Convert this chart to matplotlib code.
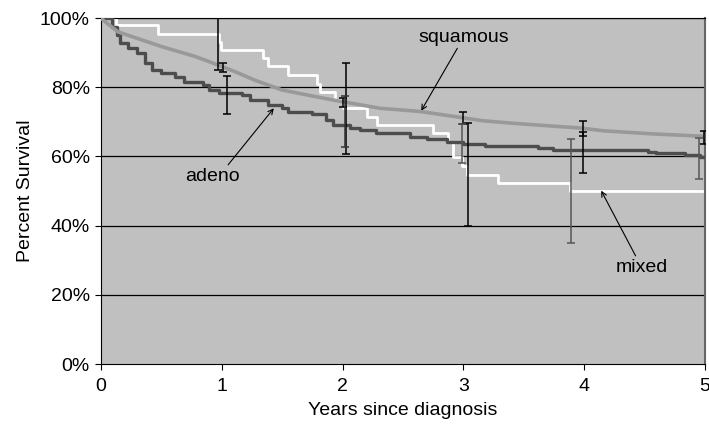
import matplotlib.pyplot as plt
from matplotlib.ticker import FuncFormatter

plt.rcParams['font.family'] = ['Liberation Sans', 'DejaVu Sans']

# survival curves (years, percent surviving)
mixed_t = [0, 0.12, 0.47, 0.977, 0.993, 1.341, 1.382, 1.548, 1.788, 1.813, 1.94,
           2.003, 2.2, 2.285, 2.748, 2.872, 2.914, 2.988, 3.03, 3.286, 3.882, 5.0]
mixed_s = [100, 98, 95.4, 93.2, 90.8, 88.3, 86.0, 83.5, 81.0, 78.7, 76.3,
           73.9, 71.5, 69.1, 66.7, 64.2, 59.7, 57.2, 54.6, 52.4, 50.1, 50.1]

adeno_t = [0, 0.09, 0.13, 0.16, 0.22, 0.3, 0.36, 0.42, 0.5, 0.61, 0.69, 0.84, 0.89,
           0.98, 1.17, 1.23, 1.38, 1.5, 1.55, 1.75, 1.86, 1.92, 2.06, 2.14, 2.28,
           2.56, 2.7, 2.86, 3.0, 3.18, 3.62, 3.74, 4.53, 4.59, 4.83, 4.96, 5.0]
adeno_s = [100, 97.5, 95, 92.7, 91.2, 89.8, 86.9, 85, 84, 83, 81.6, 80.6, 79.2,
           78.2, 77.7, 76.3, 74.9, 73.9, 72.9, 72.4, 70.5, 69.1, 68.1, 67.6, 66.7,
           65.7, 65, 64.2, 63.6, 63, 62.3, 61.8, 61.4, 60.9, 60.4, 59.9, 59.9]

squam_t = [0, 0.017, 0.14, 0.505, 0.778, 0.985, 1.109, 1.275, 1.498, 1.772, 1.937,
           2.036, 2.31, 2.64, 2.97, 3.16, 3.44, 3.72, 3.97, 4.16, 4.57, 5.0]
squam_s = [100, 99.4, 96, 91.7, 88.9, 86.2, 84.5, 82, 79.2, 77.3, 76.2,
           75.6, 73.9, 73, 71.3, 70.3, 69.5, 68.8, 68.2, 67.4, 66.5, 65.8]

# confidence intervals at yearly marks
mixed_ci_t = [0.97, 2.025, 3.035, 3.89]
mixed_ci_mid = [95.4, 73.9, 54.6, 50.1]
mixed_ci_lo = [84.9, 60.7, 39.9, 35.1]
mixed_ci_hi = [102, 87.1, 69.8, 65.0]

squam_ci_t = [1.007, 2.006, 3.0, 3.99, 4.99]
squam_ci_mid = [86.2, 75.6, 71.3, 68.2, 65.8]
squam_ci_lo = [84.5, 74.2, 69.4, 66.0, 63.7]
squam_ci_hi = [87.1, 76.9, 72.7, 70.1, 67.4]

adeno_ci_t = [1.04, 2.02, 2.99, 3.99, 4.95]
adeno_ci_mid = [78.2, 68.1, 63.6, 61.8, 59.9]
adeno_ci_lo = [72.4, 62.6, 58.0, 55.3, 53.4]
adeno_ci_hi = [83.2, 77.5, 69.5, 67.0, 65.2]

fig = plt.figure(figsize=(7.09, 4.32), dpi=100)
ax = fig.add_axes([0.1425, 0.1574, 0.852, 0.8009])
ax.set_facecolor('#c0c0c0')

for g in [20, 40, 60, 80, 100]:
    ax.axhline(g, color='black', lw=0.9, zorder=1)

ax.step(adeno_t, adeno_s, where='post', color='#4d4d4d', lw=2.4, zorder=3)
ax.step(mixed_t, mixed_s, where='post', color='white', lw=2.0, zorder=2)
ax.plot(squam_t, squam_s, color='#999999', lw=2.6, zorder=4)


def ci(t, mid, lo, hi, colors):
    for i in range(len(t)):
        ax.errorbar(t[i], mid[i], yerr=[[mid[i] - lo[i]], [hi[i] - mid[i]]],
                    fmt='none', ecolor=colors[i], elinewidth=1.1, capsize=3,
                    capthick=1.1, zorder=5)


ci(mixed_ci_t, mixed_ci_mid, mixed_ci_lo, mixed_ci_hi,
   ['black', 'black', 'black', '#555555'])
ci(squam_ci_t, squam_ci_mid, squam_ci_lo, squam_ci_hi,
   ['black'] * 5)
ci(adeno_ci_t, adeno_ci_mid, adeno_ci_lo, adeno_ci_hi,
   ['black', '#333333', '#555555', 'black', '#555555'])

arrow = dict(arrowstyle='->', color='black', lw=0.8, mutation_scale=9,
             shrinkA=0, shrinkB=0)
ax.annotate('squamous', xy=(2.65, 73.2), xytext=(3.0, 94.5), ha='center',
            va='center', fontsize=14, arrowprops=dict(arrow, relpos=(0.45, 0)))
ax.annotate('adeno', xy=(1.43, 73.9), xytext=(0.92, 54.3), ha='center',
            va='center', fontsize=14, arrowprops=dict(arrow, relpos=(0.75, 1)))
ax.annotate('mixed', xy=(4.14, 50.1), xytext=(4.48, 28), ha='center',
            va='center', fontsize=14, arrowprops=dict(arrow, relpos=(0.4, 1)))

ax.set_xlim(0, 5)
ax.set_ylim(0, 100)
ax.set_xticks(range(6))
ax.set_yticks(range(0, 101, 20))
ax.yaxis.set_major_formatter(FuncFormatter(lambda v, p: '%d%%' % v))
ax.tick_params(direction='out', length=4, labelsize=14, color='black')
ax.tick_params(axis='x', pad=6)
ax.tick_params(axis='y', pad=4)
for s in ['left', 'bottom', 'top']:
    ax.spines[s].set_color('black')
ax.spines['right'].set_color('#666666')
ax.spines['right'].set_linewidth(1.5)

ax.set_xlabel('Years since diagnosis', fontsize=14, labelpad=5)
ax.set_ylabel('Percent Survival', fontsize=14, labelpad=4)

plt.savefig('out.png', dpi=100)
